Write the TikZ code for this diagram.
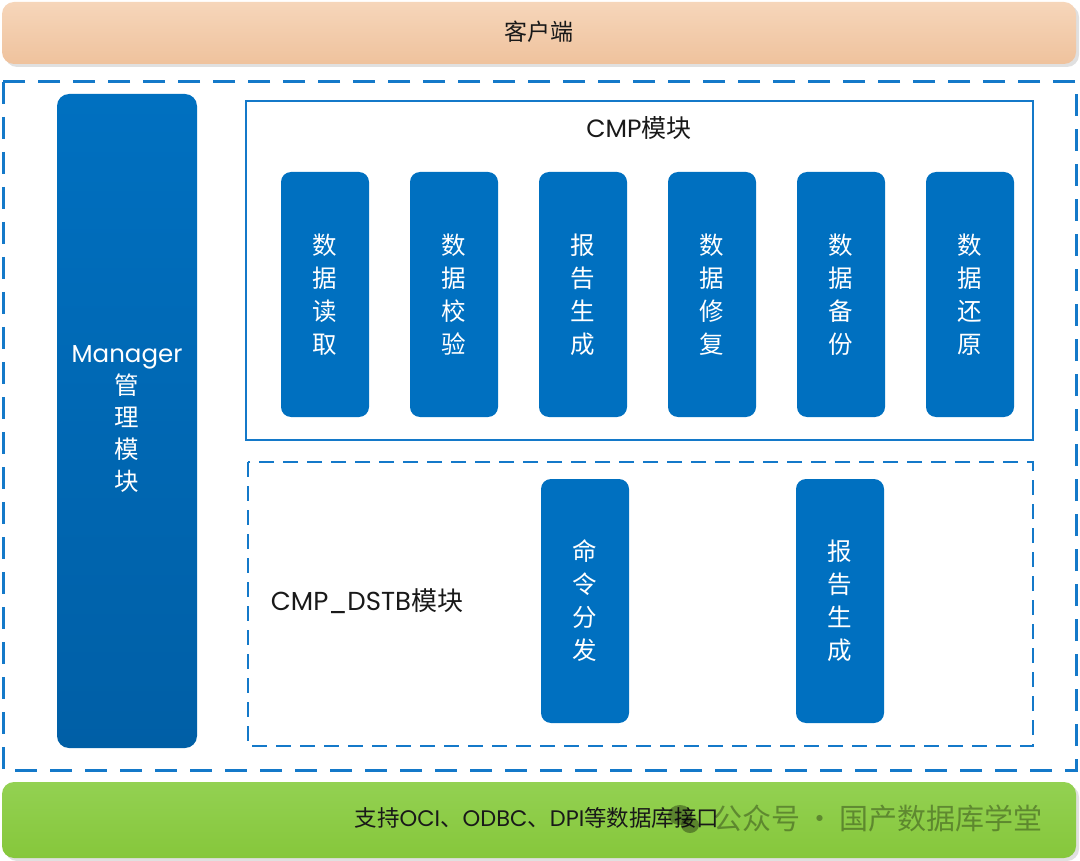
\documentclass[tikz,border=0pt]{standalone}
\usepackage{fontspec}
\setmainfont{Noto Sans CJK SC}
\newfontfamily\lat{Poppins}
\definecolor{boxblue}{HTML}{0070C0}
\definecolor{boxbluedark}{HTML}{005FA6}
\definecolor{lineblue}{HTML}{1479C9}
\definecolor{orangetop}{HTML}{F6D6BA}
\definecolor{orangebot}{HTML}{EFC29D}
\definecolor{greentop}{HTML}{93D152}
\definecolor{greenbot}{HTML}{86C73B}
\tikzset{
  bar/.style={rounded corners=12pt, draw=none, inner sep=0pt},
  barshadow/.style={fill=black!12, rounded corners=12pt, draw=none},
  modbox/.style={fill=boxblue, draw=none, rounded corners=10pt, minimum width=88pt,
    minimum height=245pt, text=white, font=\fontsize{24.5}{33}\selectfont, align=center, inner sep=0pt},
  outerdash/.style={draw=lineblue, line width=3pt, dash pattern=on 22pt off 13pt},
  innerdash/.style={draw=lineblue, line width=2pt, dash pattern=on 15pt off 9pt},
  cmpframe/.style={draw=lineblue, line width=2.5pt},
  lbl/.style={font=\fontsize{22.5}{26}\selectfont, text=black!90, inner sep=0pt},
}
\begin{document}
\begin{tikzpicture}[x=1pt,y=-1pt]
\useasboundingbox (0,0) rectangle (1080,861);
% top bar (client)
\fill[barshadow] (5,5) rectangle (1079,67);
\shade[bar, top color=orangetop, bottom color=orangebot] (2,2) rectangle (1076,64);
\node[lbl, font=\fontsize{23}{26}\selectfont] (client) at (539,32) {客户端};
% outer dashed frame
\draw[outerdash] (3,82) rectangle (1076,770);
% manager
\shade[rounded corners=12pt, top color=boxblue, bottom color=boxbluedark] (57,94) rectangle (197,748);
\node[text=white, font=\fontsize{24.5}{32}\selectfont, align=center, inner sep=0pt] (manager) at (127,419)
  {{\lat\fontsize{24.5}{32}\selectfont Manager}\\管\\理\\模\\块};
% CMP module frame
\draw[cmpframe] (246,101) rectangle (1033,440);
\node[lbl, font=\fontsize{25}{28}\selectfont] (cmp) at (639,128) {{\lat CMP}模块};
\node[modbox] (m1) at (325,294.5) {数\\据\\读\\取};
\node[modbox] (m2) at (454,294.5) {数\\据\\校\\验};
\node[modbox] (m3) at (583,294.5) {报\\告\\生\\成};
\node[modbox] (m4) at (712,294.5) {数\\据\\修\\复};
\node[modbox] (m5) at (841,294.5) {数\\据\\备\\份};
\node[modbox] (m6) at (970,294.5) {数\\据\\还\\原};
% CMP_DSTB frame
\draw[innerdash] (248,462) rectangle (1033,746);
\node[lbl, font=\fontsize{26}{30}\selectfont] (dstb) at (367,601) {{\lat CMP\_DSTB}模块};
\node[modbox, minimum height=244pt] (d1) at (585,601) {命\\令\\分\\发};
\node[modbox, minimum height=244pt] (d2) at (840,601) {报\\告\\生\\成};
% bottom bar
\fill[barshadow] (5,785) rectangle (1079,861);
\shade[bar, top color=greentop, bottom color=greenbot] (2,782) rectangle (1076,858);
\node[lbl] (iface) at (537,818) {支持{\lat OCI}、{\lat ODBC}、{\lat DPI}等数据库接口};
% watermark
\fill[black, opacity=0.35] (680,815) ellipse (12pt and 10pt);
\fill[black, opacity=0.35] (690,825) ellipse (9pt and 8pt);
\node[text=black, opacity=0.33, font=\fontsize{29}{33}\selectfont, inner sep=0pt] (wm) at (878,818) {公众号\,·\,国产数据库学堂};
\end{tikzpicture}
\end{document}
